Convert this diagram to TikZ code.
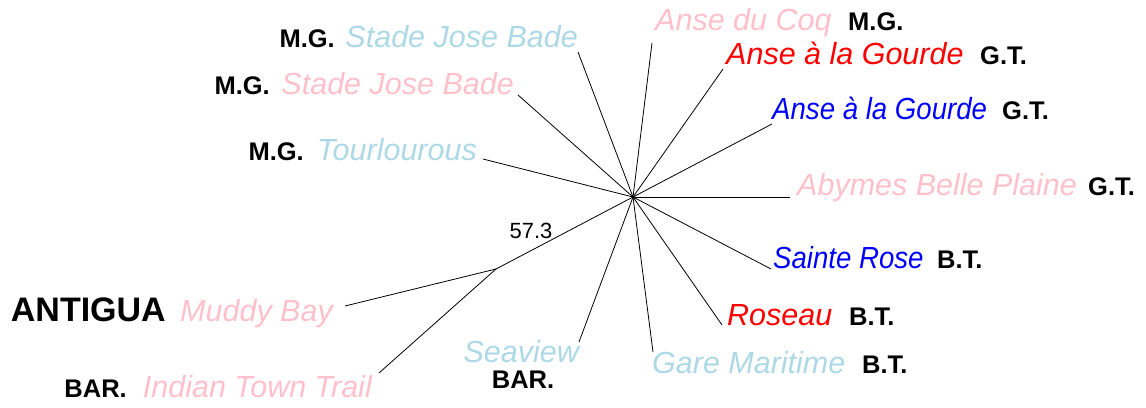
\documentclass[tikz,border=0pt]{standalone}
\usepackage{fontspec}
\usepackage{graphicx}
\setmainfont{Liberation Sans}
\definecolor{lb}{HTML}{ADD8E6}
\definecolor{pk}{HTML}{FFC0CB}
\begin{document}
\begin{tikzpicture}[x=1pt,y=-1pt,
  place/.style={font=\fontsize{30.5}{30.5}\selectfont\itshape, inner sep=0pt},
  code/.style={font=\fontsize{25.5}{25.5}\selectfont\bfseries, inner sep=0pt},
  bigcode/.style={font=\fontsize{34}{34}\selectfont\bfseries, inner sep=0pt},
  branch/.style={line width=0.8pt, black}]
\useasboundingbox (0,0) rectangle (1146,407);

% internal nodes
\coordinate (hub) at (633,197);
\coordinate (inner) at (496,269);

% tips
\coordinate (t1) at (578,52);
\coordinate (t2) at (518,95);
\coordinate (t3) at (483,159);
\coordinate (tcoq) at (652,43);
\coordinate (tred) at (723,69);
\coordinate (tblue) at (772,124);
\coordinate (taby) at (790,197);
\coordinate (tsr) at (771,269);
\coordinate (tros) at (722,325);
\coordinate (tgare) at (653,352);
\coordinate (tsea) at (579,342);
\coordinate (tmud) at (345,306);
\coordinate (tind) at (379,373);

% branches
\draw[branch] (hub) -- (t1);
\draw[branch] (hub) -- (t2);
\draw[branch] (hub) -- (t3);
\draw[branch] (hub) -- (tcoq);
\draw[branch] (hub) -- (tred);
\draw[branch] (hub) -- (tblue);
\draw[branch] (hub) -- (taby);
\draw[branch] (hub) -- (tsr);
\draw[branch] (hub) -- (tros);
\draw[branch] (hub) -- (tgare);
\draw[branch] (hub) -- (tsea);
\draw[branch] (hub) -- (inner);
\draw[branch] (inner) -- (tmud);
\draw[branch] (inner) -- (tind);

\node[font=\fontsize{22}{22}\selectfont, inner sep=0pt, anchor=base] (bs) at (531,238) {57.3};

% left labels
\node[place,lb,anchor=base east] (l1) at (578,47) {Stade Jose Bade};
\node[code,anchor=base east] (c1) at (335,47) {M.G.};
\node[place,pk,anchor=base east] (l2) at (514,94) {Stade Jose Bade};
\node[code,anchor=base east] (c2) at (270,94) {M.G.};
\node[place,lb,anchor=base east] (l3) at (477,160) {Tourlourous};
\node[code,anchor=base east] (c3) at (304,160) {M.G.};
\node[place,pk,anchor=base east] (lmud) at (333,321) {Muddy Bay};
\node[bigcode,anchor=base east] (cmud) at (166,321) {ANTIGUA};
\node[place,pk,anchor=base east] (lind) at (372,397) {Indian Town Trail};
\node[code,anchor=base east] (cind) at (127,397) {BAR.};
\node[place,lb,anchor=base east] (lsea) at (579,362) {Seaview};
\node[code,anchor=base] (csea) at (523,388) {BAR.};

% right labels
\node[place,pk,anchor=base west] (lcoq) at (655,30) {Anse du Coq};
\node[code,anchor=base west] (ccoq) at (848,30) {M.G.};
\node[place,red,anchor=base west] (lred) at (726,64) {Anse à la Gourde};
\node[code,anchor=base west] (cred) at (980,64) {G.T.};
\node[place,blue,anchor=base west] (lblue) at (772,119) {\scalebox{0.905}[1]{Anse à la Gourde}};
\node[code,anchor=base west] (cblue) at (1002,119) {G.T.};
\node[place,pk,anchor=base west] (laby) at (797,195) {Abymes Belle Plaine};
\node[code,anchor=base west] (caby) at (1088,195) {G.T.};
\node[place,blue,anchor=base west] (lsr) at (773,268) {\scalebox{0.905}[1]{Sainte Rose}};
\node[code,anchor=base west] (csr) at (937,268) {B.T.};
\node[place,red,anchor=base west] (lros) at (727,325) {Roseau};
\node[code,anchor=base west] (cros) at (849,325) {B.T.};
\node[place,lb,anchor=base west] (lgare) at (652,373) {Gare Maritime};
\node[code,anchor=base west] (cgare) at (862,373) {B.T.};
\end{tikzpicture}
\end{document}
